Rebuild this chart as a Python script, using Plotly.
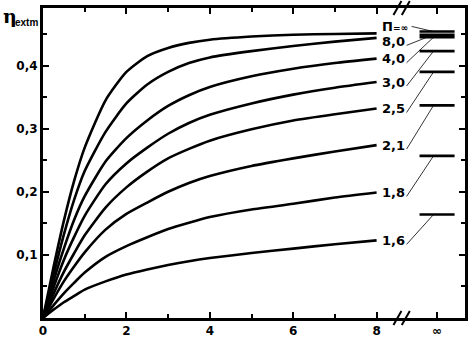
import plotly.graph_objects as go

# ---------------- data ----------------
X = [0, 0.25, 0.5, 0.75, 1, 1.5, 2, 2.5, 3, 3.5, 4, 5, 6, 7, 8]

curve_inf = [0, 0.080, 0.154, 0.218, 0.270, 0.345, 0.390, 0.415, 0.428, 0.436, 0.441, 0.446, 0.449, 0.450, 0.451]
curve_8_0 = [0, 0.068, 0.132, 0.188, 0.233, 0.295, 0.340, 0.370, 0.390, 0.404, 0.413, 0.423, 0.431, 0.438, 0.444]
curve_4_0 = [0, 0.058, 0.110, 0.156, 0.193, 0.248, 0.285, 0.313, 0.336, 0.353, 0.366, 0.383, 0.395, 0.404, 0.411]
curve_3_0 = [0, 0.048, 0.092, 0.129, 0.162, 0.212, 0.245, 0.270, 0.292, 0.309, 0.322, 0.340, 0.354, 0.365, 0.374]
curve_2_5 = [0, 0.038, 0.073, 0.103, 0.131, 0.175, 0.207, 0.232, 0.253, 0.268, 0.281, 0.299, 0.313, 0.323, 0.332]
curve_2_1 = [0, 0.030, 0.058, 0.082, 0.104, 0.140, 0.165, 0.183, 0.200, 0.214, 0.225, 0.241, 0.253, 0.264, 0.274]
curve_1_8 = [0, 0.020, 0.039, 0.056, 0.072, 0.097, 0.114, 0.128, 0.141, 0.151, 0.160, 0.172, 0.181, 0.191, 0.199]
curve_1_6 = [0, 0.013, 0.025, 0.035, 0.045, 0.058, 0.069, 0.077, 0.084, 0.090, 0.095, 0.103, 0.110, 0.117, 0.123]

curves = [curve_inf, curve_8_0, curve_4_0, curve_3_0, curve_2_5, curve_2_1, curve_1_8, curve_1_6]
labels = ["Π=∞", "8,0", "4,0", "3,0", "2,5", "2,1", "1,8", "1,6"]
# values at x = infinity (short bars at the right)
limits = [0.454, 0.449, 0.445, 0.423, 0.390, 0.337, 0.257, 0.164]

x_tickvals = [0, 2, 4, 6, 8]
x_ticktext = ["0", "2", "4", "6", "8"]
inf_label = "∞"
y_tickvals = [0.1, 0.2, 0.3, 0.4]
y_ticktext = ["0,1", "0,2", "0,3", "0,4"]

# ---------------- geometry / style ----------------
W, H = 468, 338
L, R, T, B = 43, 3, 8, 20
PW, PH = W - L - R, H - T - B
XPX = 41.7           # px per x unit
YPX = 631.0          # px per y unit
XMAX = PW / XPX
YMAX = PH / YPX
INF_X = 9.45         # position of the "infinity" column
BAR_HALF = 0.42
FONT = "DejaVu Sans"

def dx(px):
    return px / XPX

def dy(px):
    return px / YPX

def paper_x(v):
    return v / XMAX

fig = go.Figure()

for c in curves:
    fig.add_trace(go.Scatter(x=X, y=c, mode="lines",
                             line=dict(color="black", width=2.6, shape="spline", smoothing=0.6),
                             hoverinfo="skip", showlegend=False))

for lim in limits:
    fig.add_trace(go.Scatter(x=[INF_X - BAR_HALF, INF_X + BAR_HALF], y=[lim, lim], mode="lines",
                             line=dict(color="black", width=2.6), hoverinfo="skip", showlegend=False))

# labels at curve ends and leader lines
label_dy_px = [-7, 3.5, 0, 0, 0, 0, 0, 0]
label_x = 8 + dx(3)
annotations = []
shapes = []
for c, lab, lim, ddy in zip(curves, labels, limits, label_dy_px):
    ly = c[-1] - dy(ddy)
    if lab.startswith("Π"):
        txt = "Π<span style='font-size:9px'>=∞</span>"
        lead_x0 = label_x + dx(32)
        lead_y0 = ly
    else:
        txt = lab
        lead_x0 = label_x + dx(27)
        lead_y0 = ly - dy(4)
    annotations.append(dict(x=label_x, y=ly, xref="x", yref="y", text=txt, showarrow=False,
                            xanchor="left", yanchor="middle",
                            font=dict(family=FONT, size=13, color="black", weight="bold")))
    shapes.append(dict(type="line", xref="x", yref="y", x0=lead_x0, y0=lead_y0,
                       x1=INF_X - BAR_HALF + dx(14), y1=lim,
                       line=dict(color="black", width=0.8)))

# axis-break marks (bottom and top)
for bx in [8.5, 8.7]:
    for yc in [0.0, 1.0]:
        shapes.append(dict(type="line", xref="paper", yref="paper",
                           x0=paper_x(bx - dx(4)), y0=yc - 7 / PH,
                           x1=paper_x(bx + dx(4)), y1=yc + 7 / PH,
                           line=dict(color="black", width=2)))

# y-axis title
annotations.append(dict(x=(1 - L) / PW, y=(H - B - 16) / PH, xref="paper", yref="paper", text="η",
                        showarrow=False, xanchor="left", yanchor="middle",
                        font=dict(family="DejaVu Serif", size=19, color="black", weight="bold")))
annotations.append(dict(x=(13 - L) / PW, y=(H - B - 23) / PH, xref="paper", yref="paper", text="extm",
                        showarrow=False, xanchor="left", yanchor="middle",
                        font=dict(family="Liberation Sans", size=10, color="black", weight="bold")))

axis_common = dict(showline=True, linewidth=3, linecolor="black", mirror="allticks",
                   ticks="inside", ticklen=6, tickwidth=2, tickcolor="black",
                   showgrid=False, zeroline=False, automargin=False,
                   tickfont=dict(family=FONT, size=12, color="black", weight="bold"))

fig.update_layout(
    template="none",
    width=W, height=H,
    margin=dict(l=L, r=R, t=T, b=B, pad=0),
    paper_bgcolor="white", plot_bgcolor="white",
    xaxis=dict(range=[0, XMAX], tickmode="array",
               tickvals=x_tickvals + [INF_X], ticktext=x_ticktext + [inf_label],
               minor=dict(tickvals=[1, 3, 5, 7], ticks="inside", ticklen=4, tickwidth=2, tickcolor="black"),
               **axis_common),
    yaxis=dict(range=[0, YMAX], tickmode="array",
               tickvals=y_tickvals, ticktext=y_ticktext,
               minor=dict(tickvals=[0.05, 0.15, 0.25, 0.35, 0.45], ticks="inside", ticklen=4, tickwidth=2,
                          tickcolor="black"),
               **axis_common),
    annotations=annotations,
    shapes=shapes,
)

fig.write_html("out.html", config={"displayModeBar": False},
               post_script="document.body.style.margin='0px';document.body.style.overflow='hidden';")
